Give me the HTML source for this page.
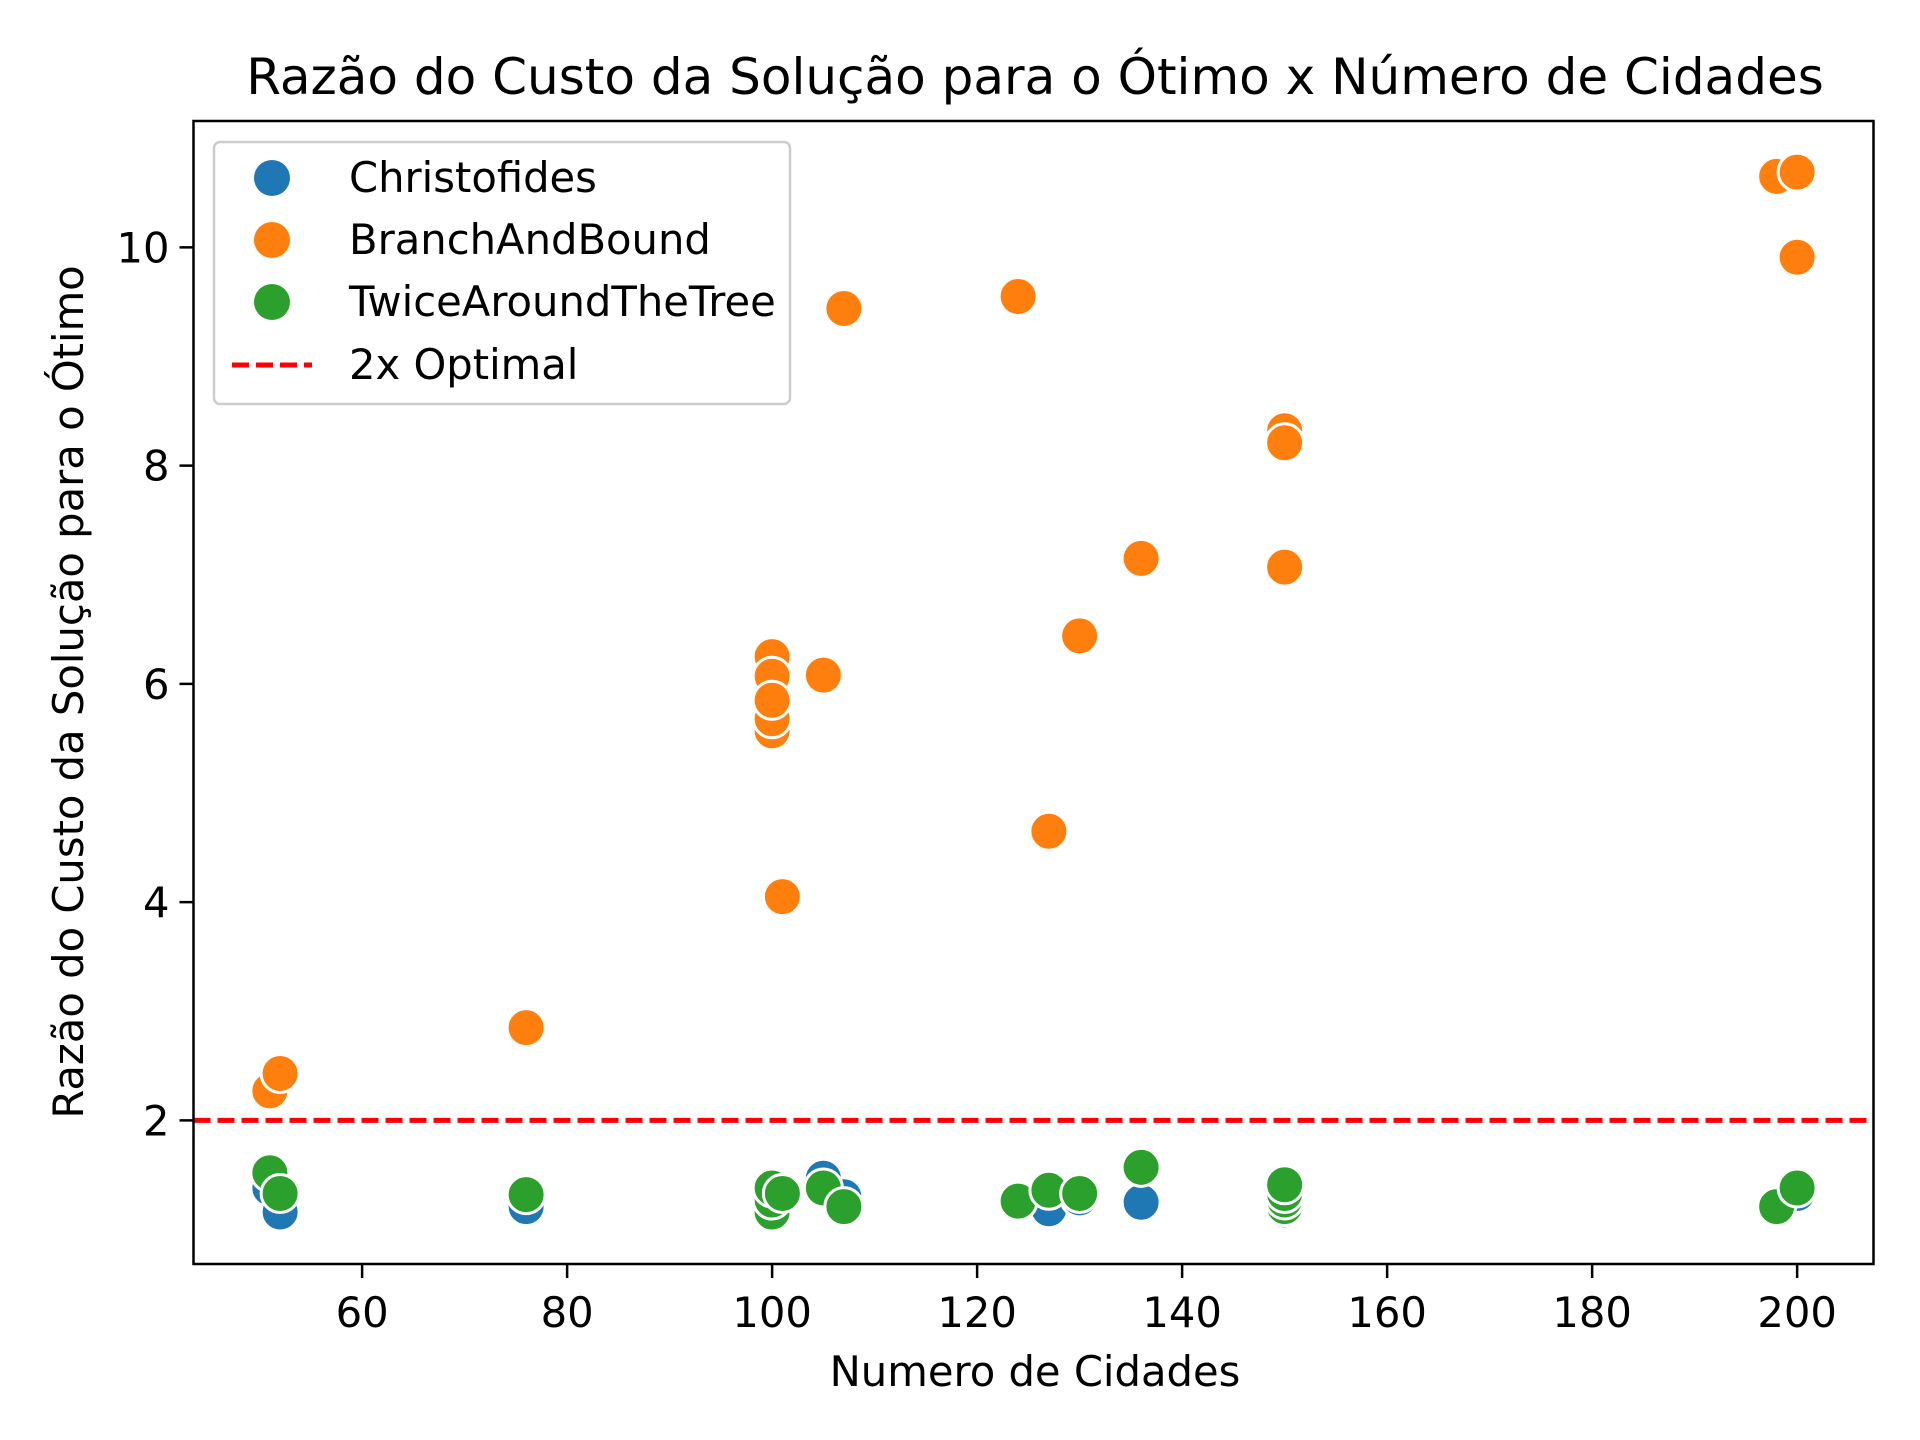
<!DOCTYPE html>
<html><head><meta charset="utf-8"><style>
html,body{margin:0;padding:0;background:#fff;}
svg{display:block;font-family:"DejaVu Sans","Liberation Sans",sans-serif;}
</style></head><body>
<svg id="chart" width="1920" height="1440" viewBox="0 0 1920 1440" xmlns="http://www.w3.org/2000/svg">
<rect x="0" y="0" width="1920" height="1440" fill="#fff"/>
<text x="1035" y="94" font-size="50" text-anchor="middle">Razão do Custo da Solução para o Ótimo x Número de Cidades</text>
<g id="plot"></g>
<rect x="193.5" y="121" width="1680" height="1143" fill="none" stroke="#000" stroke-width="2.5"/>
<text x="1035" y="1386" font-size="41.7" text-anchor="middle">Numero de Cidades</text>
<text transform="translate(83,692) rotate(-90)" font-size="41.7" text-anchor="middle">Razão do Custo da Solução para o Ótimo</text>
<g>
<rect x="214" y="142" width="576" height="262" rx="6" fill="#fff" fill-opacity="0.8" stroke="#ccc" stroke-width="2.5"/>
<circle cx="272" cy="178" r="18" fill="#1f77b4"/>
<text x="349" y="192" font-size="41.7">Christofides</text>
<circle cx="272" cy="240" r="18" fill="#ff7f0e"/>
<text x="349" y="254" font-size="41.7">BranchAndBound</text>
<circle cx="272" cy="302" r="18" fill="#2ca02c"/>
<text x="349" y="316" font-size="41.7">TwiceAroundTheTree</text>
<line x1="232" y1="365" x2="312" y2="365" stroke="#f00" stroke-width="5" stroke-dasharray="17,7"/>
<text x="349" y="379" font-size="41.7">2x Optimal</text>
</g>
</svg>
<script>
const xTicks = [60, 80, 100, 120, 140, 160, 180, 200];
const yTicks = [2, 4, 6, 8, 10];
const christofidesX = [51, 52, 76, 100, 101, 105, 107, 124, 127, 130, 136, 150, 198, 200];
const christofidesY = [1.38, 1.16, 1.21, 1.33, 1.30, 1.47, 1.30, 1.25, 1.19, 1.29, 1.25, 1.18, 1.20, 1.33];
const branchX = [51, 52, 76, 100, 100, 100, 100, 100, 101, 105, 107, 124, 127, 130, 136, 150, 150, 150, 198, 200, 200];
const branchY = [2.27, 2.43, 2.85, 5.57, 5.68, 6.25, 6.07, 5.85, 4.05, 6.08, 9.44, 9.55, 4.65, 6.44, 7.15, 8.32, 8.21, 7.07, 10.65, 10.69, 9.91];
const twiceX = [51, 52, 76, 100, 100, 100, 101, 105, 107, 124, 127, 130, 136, 150, 150, 150, 150, 198, 200];
const twiceY = [1.52, 1.33, 1.32, 1.16, 1.27, 1.38, 1.33, 1.38, 1.21, 1.26, 1.36, 1.33, 1.57, 1.21, 1.27, 1.33, 1.41, 1.21, 1.38];
const optimalLine = 2;

const L=193.5,R=1873.5,T=121,B=1264;
const xMin=43.55,xMax=207.45,yMin=0.684,yMax=11.158;
const sx=v=>L+(v-xMin)/(xMax-xMin)*(R-L);
const sy=v=>B-(v-yMin)/(yMax-yMin)*(B-T);
const NS='http://www.w3.org/2000/svg';
const svg=document.getElementById('chart');
const plot=document.getElementById('plot');
function mk(tag,attrs,parent){const e=document.createElementNS(NS,tag);for(const k in attrs)e.setAttribute(k,attrs[k]);parent.appendChild(e);return e;}

xTicks.forEach(t=>{
  const g=mk('g',{},svg);
  
  
  mk('line',{x1:sx(t),x2:sx(t),y1:B,y2:B+14,stroke:'#000','stroke-width':2.5},g);
  const tx=mk('text',{x:sx(t),y:B+63,'font-size':41.7,'text-anchor':'middle'},g);
  tx.textContent=t;
});
yTicks.forEach(t=>{
  const g=mk('g',{},svg);
  
  
  mk('line',{x1:L-14,x2:L,y1:sy(t),y2:sy(t),stroke:'#000','stroke-width':2.5},g);
  const tx=mk('text',{x:L-24,y:sy(t)+15,'font-size':41.7,'text-anchor':'end'},g);
  tx.textContent=t;
});

const line=mk('line',{x1:L,x2:R,y1:sy(optimalLine),y2:sy(optimalLine),stroke:'#f00','stroke-width':5,'stroke-dasharray':'17,7'},plot);



function series(xs,ys,color,name){
  xs.forEach((x,i)=>{
    const c=mk('circle',{cx:sx(x),cy:sy(ys[i]),r:19,fill:color,stroke:'#fff','stroke-width':3},plot);
    
    
  });
}
series(christofidesX,christofidesY,'#1f77b4','christofides');
series(branchX,branchY,'#ff7f0e','branchandbound');
series(twiceX,twiceY,'#2ca02c','twicearoundthetree');
</script>
</body></html>
